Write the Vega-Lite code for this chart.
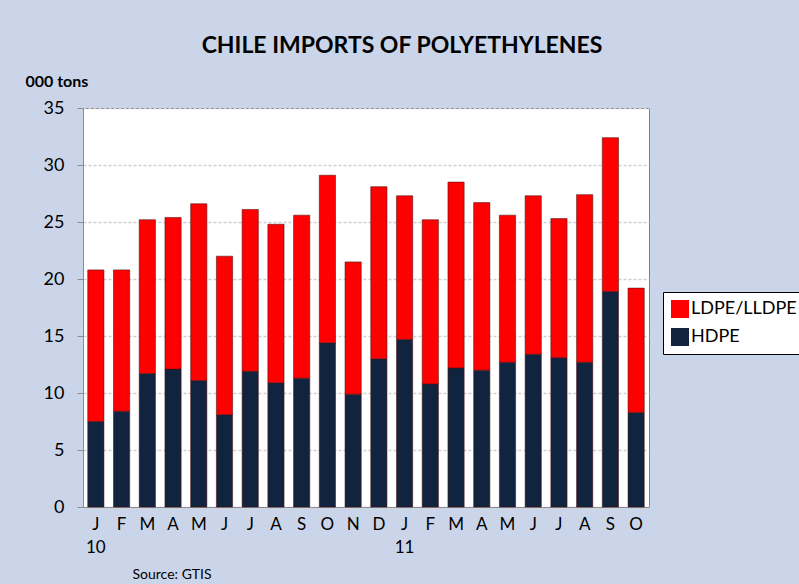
{
  "$schema": "https://vega.github.io/schema/vega-lite/v6.json",
  "width": 566,
  "height": 399,
  "autosize": {"type": "none"},
  "padding": {"left": 83, "top": 108, "right": 150, "bottom": 77},
  "background": "#cbd5e9",
  "config": {
    "font": "Lato",
    "view": {"stroke": "#7f7f7f", "strokeWidth": 1, "fill": "#ffffff"}
  },
  "title": {
    "text": "CHILE IMPORTS OF POLYETHYLENES",
    "font": "Lato",
    "fontSize": 23,
    "fontWeight": "bold",
    "color": "#000000",
    "anchor": "middle",
    "dx": 36,
    "offset": 15
  },
  "data": {
    "values": [
      {"period": "2010-01", "product": "HDPE", "tons": 7.5},
      {"period": "2010-01", "product": "LDPE/LLDPE", "tons": 13.3},
      {"period": "2010-02", "product": "HDPE", "tons": 8.4},
      {"period": "2010-02", "product": "LDPE/LLDPE", "tons": 12.4},
      {"period": "2010-03", "product": "HDPE", "tons": 11.7},
      {"period": "2010-03", "product": "LDPE/LLDPE", "tons": 13.5},
      {"period": "2010-04", "product": "HDPE", "tons": 12.1},
      {"period": "2010-04", "product": "LDPE/LLDPE", "tons": 13.3},
      {"period": "2010-05", "product": "HDPE", "tons": 11.1},
      {"period": "2010-05", "product": "LDPE/LLDPE", "tons": 15.5},
      {"period": "2010-06", "product": "HDPE", "tons": 8.1},
      {"period": "2010-06", "product": "LDPE/LLDPE", "tons": 13.9},
      {"period": "2010-07", "product": "HDPE", "tons": 11.9},
      {"period": "2010-07", "product": "LDPE/LLDPE", "tons": 14.2},
      {"period": "2010-08", "product": "HDPE", "tons": 10.9},
      {"period": "2010-08", "product": "LDPE/LLDPE", "tons": 13.9},
      {"period": "2010-09", "product": "HDPE", "tons": 11.3},
      {"period": "2010-09", "product": "LDPE/LLDPE", "tons": 14.3},
      {"period": "2010-10", "product": "HDPE", "tons": 14.4},
      {"period": "2010-10", "product": "LDPE/LLDPE", "tons": 14.7},
      {"period": "2010-11", "product": "HDPE", "tons": 9.9},
      {"period": "2010-11", "product": "LDPE/LLDPE", "tons": 11.6},
      {"period": "2010-12", "product": "HDPE", "tons": 13.0},
      {"period": "2010-12", "product": "LDPE/LLDPE", "tons": 15.1},
      {"period": "2011-01", "product": "HDPE", "tons": 14.7},
      {"period": "2011-01", "product": "LDPE/LLDPE", "tons": 12.6},
      {"period": "2011-02", "product": "HDPE", "tons": 10.8},
      {"period": "2011-02", "product": "LDPE/LLDPE", "tons": 14.4},
      {"period": "2011-03", "product": "HDPE", "tons": 12.2},
      {"period": "2011-03", "product": "LDPE/LLDPE", "tons": 16.3},
      {"period": "2011-04", "product": "HDPE", "tons": 12.0},
      {"period": "2011-04", "product": "LDPE/LLDPE", "tons": 14.7},
      {"period": "2011-05", "product": "HDPE", "tons": 12.7},
      {"period": "2011-05", "product": "LDPE/LLDPE", "tons": 12.9},
      {"period": "2011-06", "product": "HDPE", "tons": 13.4},
      {"period": "2011-06", "product": "LDPE/LLDPE", "tons": 13.9},
      {"period": "2011-07", "product": "HDPE", "tons": 13.1},
      {"period": "2011-07", "product": "LDPE/LLDPE", "tons": 12.2},
      {"period": "2011-08", "product": "HDPE", "tons": 12.7},
      {"period": "2011-08", "product": "LDPE/LLDPE", "tons": 14.7},
      {"period": "2011-09", "product": "HDPE", "tons": 18.9},
      {"period": "2011-09", "product": "LDPE/LLDPE", "tons": 13.5},
      {"period": "2011-10", "product": "HDPE", "tons": 8.3},
      {"period": "2011-10", "product": "LDPE/LLDPE", "tons": 10.9}
    ]
  },
  "mark": {"type": "bar", "stroke": "#4a1010", "strokeOpacity": 0.55, "strokeWidth": 1},
  "encoding": {
    "x": {
      "field": "period",
      "type": "ordinal",
      "scale": {"paddingInner": 0.37, "paddingOuter": 0.185},
      "axis": {
        "title": "Source: GTIS",
        "titleFontSize": 14,
        "titleFontWeight": "normal",
        "titleColor": "#000000",
        "titleAnchor": "start",
        "titleAlign": "left",
        "titleBaseline": "alphabetic",
        "titleX": 49,
        "titleY": 71,
        "labelExpr": "[['J','F','M','A','M','J','J','A','S','O','N','D'][toNumber(substring(datum.value,5,7))-1], substring(datum.value,5,7)=='01' ? substring(datum.value,2,4) : '']",
        "labelAngle": 0,
        "labelFontSize": 17,
        "labelLineHeight": 23,
        "labelColor": "#000000",
        "labelPadding": 9,
        "ticks": false,
        "domainColor": "#8c8c8c"
      }
    },
    "y": {
      "field": "tons",
      "type": "quantitative",
      "stack": "zero",
      "scale": {"domain": [0, 35], "nice": false},
      "axis": {
        "values": [0, 5, 10, 15, 20, 25, 30, 35],
        "title": "000 tons",
        "titleAngle": 0,
        "titleFontSize": 16,
        "titleFontWeight": "bold",
        "titleColor": "#000000",
        "titleAlign": "left",
        "titleBaseline": "alphabetic",
        "titleX": -58,
        "titleY": -22,
        "labelFontSize": 18,
        "labelColor": "#000000",
        "labelPadding": 13,
        "tickSize": 6,
        "tickColor": "#8c8c8c",
        "domainColor": "#8c8c8c",
        "gridColor": "#cfcfcf",
        "gridDash": [3, 2],
        "gridWidth": 1.5
      }
    },
    "color": {
      "field": "product",
      "type": "nominal",
      "scale": {"domain": ["LDPE/LLDPE", "HDPE"], "range": ["#ff0000", "#10233f"]},
      "legend": {
        "title": null,
        "orient": "none",
        "legendX": 580,
        "legendY": 184,
        "padding": 8,
        "strokeColor": "#000000",
        "fillColor": "#ffffff",
        "symbolType": "square",
        "symbolSize": 324,
        "symbolStrokeWidth": 0,
        "labelFontSize": 18,
        "labelColor": "#000000",
        "labelOffset": 2,
        "rowPadding": 10
      }
    },
    "order": {"field": "product", "sort": "ascending"}
  }
}
